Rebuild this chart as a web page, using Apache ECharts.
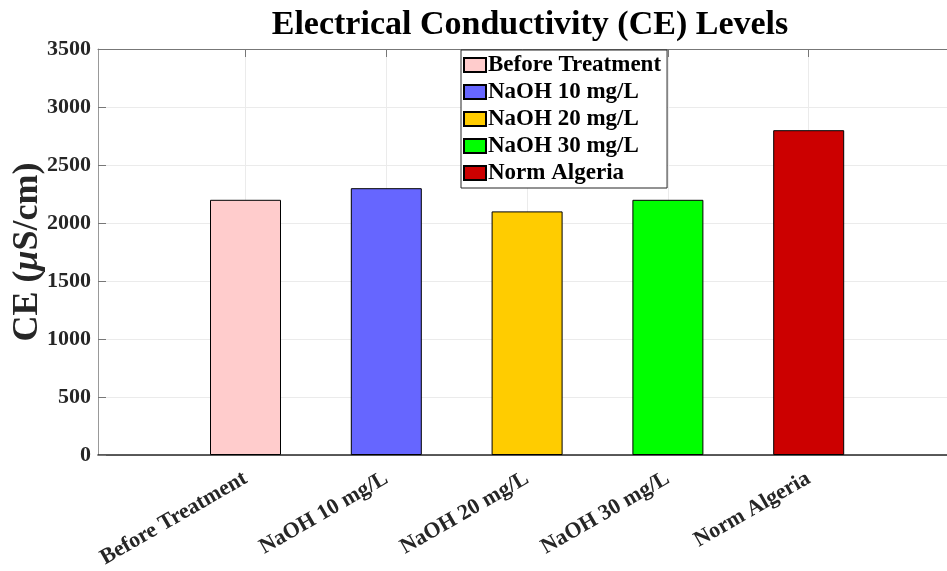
<!DOCTYPE html>
<html>
<head>
<meta charset="utf-8">
<script src="https://cdn.jsdelivr.net/npm/echarts@6/dist/echarts.min.js"></script>
<style>
  html, body { margin: 0; padding: 0; background: #fff; }
  #main { width: 947px; height: 571px; }
</style>
</head>
<body>
<div id="main"></div>
<script>
// data
var categories = ['Before Treatment', 'NaOH 10 mg/L', 'NaOH 20 mg/L', 'NaOH 30 mg/L', 'Norm Algeria'];
var ceValues = [2200, 2300, 2100, 2200, 2800];
var barColors = ['#ffcccc', '#6666ff', '#ffcc00', '#00ff00', '#cc0000'];
var yTicks = [0, 500, 1000, 1500, 2000, 2500, 3000, 3500];

var font = 'Liberation Serif';
var chart = echarts.init(document.getElementById('main'), null, { renderer: 'canvas' });

// one series per category so the legend gets one entry each
var series = categories.map(function (name, i) {
  var data = categories.map(function (c, j) { return j === i ? ceValues[j] : '-'; });
  return {
    name: name,
    type: 'bar',
    xAxisIndex: 1,
    yAxisIndex: 1,
    barWidth: 71,
    barGap: '-100%',
    itemStyle: { color: barColors[i], borderColor: '#000', borderWidth: 1 },
    emphasis: { disabled: true },
    data: data
  };
});

var option = {
  animation: false,
  backgroundColor: '#fff',
  title: {
    text: 'Electrical Conductivity (CE) Levels',
    left: 525,
    top: 3,
    textAlign: 'center',
    textStyle: { fontFamily: font, fontWeight: 'bold', fontSize: 34, color: '#000' }
  },
  legend: {
    orient: 'vertical',
    left: 461,
    top: 50,
    padding: [3, 6, 3, 2],
    itemWidth: 22,
    itemHeight: 14,
    itemGap: 3,
    backgroundColor: '#fff',
    borderColor: '#262626',
    borderWidth: 1,
    borderRadius: 0,
    icon: 'rect',
    textStyle: { fontFamily: font, fontWeight: 'bold', fontSize: 23, color: '#000', padding: [0, 0, 0, -3], lineHeight: 24 },
    data: categories
  },
  grid: [
    { left: 98, right: -5, top: 49, bottom: 116, outerBoundsMode: 'none', containLabel: false },
    { left: 245.5, right: 138.3, top: 49, bottom: 116, outerBoundsMode: 'none', containLabel: false }
  ],
  xAxis: [
    { // frame bottom
      gridIndex: 0, type: 'value', min: 0, max: 1, position: 'bottom',
      axisLine: { show: true, lineStyle: { color: '#262626', width: 1.5 } },
      axisTick: { show: false }, axisLabel: { show: false }, splitLine: { show: false }
    },
    { // categories
      gridIndex: 1, type: 'category', data: categories, boundaryGap: false, position: 'bottom',
      axisLine: { show: false },
      axisTick: { show: false },
      splitLine: { show: true, lineStyle: { color: '#ebebeb', width: 1 } },
      axisLabel: {
        rotate: 30, margin: 22, interval: 0,
        fontFamily: font, fontWeight: 'bold', fontSize: 22, color: '#262626'
      }
    },
    { // frame top
      gridIndex: 0, type: 'value', min: 0, max: 1, position: 'top',
      axisLine: { show: true, onZero: false, lineStyle: { color: '#777', width: 1 } },
      axisTick: { show: false }, axisLabel: { show: false }, splitLine: { show: false }
    },
    { // top ticks
      gridIndex: 1, type: 'category', data: categories, boundaryGap: false, position: 'top',
      axisLine: { show: false },
      axisTick: { show: true, inside: true, length: 8, lineStyle: { color: '#777' } },
      axisLabel: { show: false }, splitLine: { show: false }
    }
  ],
  yAxis: [
    {
      gridIndex: 0, type: 'value', min: yTicks[0], max: yTicks[yTicks.length - 1], interval: yTicks[1] - yTicks[0],
      name: '{a|CE (}{b|μ}{a|S/cm)}',
      nameLocation: 'middle', nameRotate: 90, nameGap: 52, nameMoveOverlap: false,
      nameTextStyle: {
        rich: {
          a: { fontFamily: font, fontWeight: 'bold', fontSize: 36, color: '#262626' },
          b: { fontFamily: font, fontWeight: 'bold', fontStyle: 'italic', fontSize: 36, color: '#262626' }
        }
      },
      axisLine: { show: true, lineStyle: { color: '#999', width: 1 } },
      axisTick: { show: true, inside: true, length: 8, lineStyle: { color: '#777' } },
      splitLine: { show: true, lineStyle: { color: '#ebebeb', width: 1 } },
      axisLabel: {
        margin: 7, fontFamily: font, fontWeight: 'bold', fontSize: 22, color: '#262626',
        formatter: function (v) { return String(v); }
      }
    },
    {
      gridIndex: 1, type: 'value', min: yTicks[0], max: yTicks[yTicks.length - 1], show: false
    }
  ],
  series: series
};

chart.setOption(option);
</script>
</body>
</html>
